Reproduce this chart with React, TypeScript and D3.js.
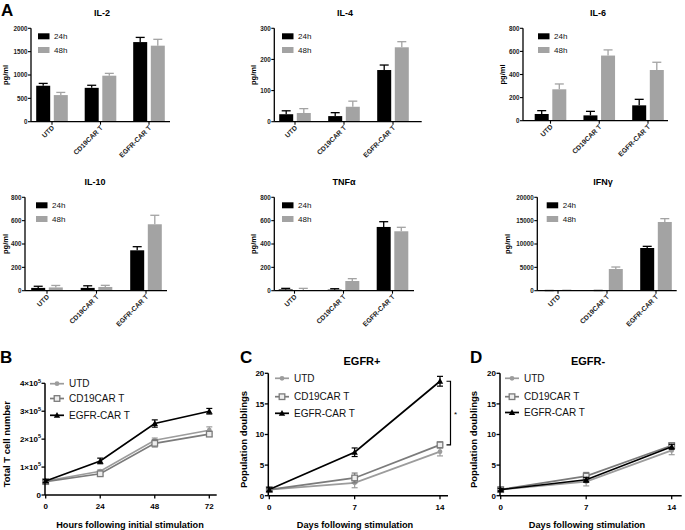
import React from "react";
import * as d3 from "d3";

// ---------- DATA ----------
const categories = ["UTD", "CD19CAR T", "EGFR-CAR T"];
const timeLabels = ["24h", "48h"];

const il2_24 = [770, 725, 1705];
const il2_24err = [50, 55, 100];
const il2_48 = [570, 985, 1628];
const il2_48err = [57, 50, 136];

const il4_24 = [24, 18, 166];
const il4_24err = [11, 11, 16];
const il4_48 = [28, 48, 239];
const il4_48err = [14, 18, 18];

const il6_24 = [58, 46, 133];
const il6_24err = [29, 35, 52];
const il6_48 = [272, 564, 439];
const il6_48err = [46, 49, 67];

const il10_24 = [24, 24, 346];
const il10_24err = [14, 18, 31];
const il10_48 = [28, 32, 569];
const il10_48err = [17, 14, 77];

const tnf_24 = [11, 9, 546];
const tnf_24err = [9, 8, 45];
const tnf_48 = [6, 83, 509];
const tnf_48err = [14, 20, 34];

const ifn_24 = [20, 30, 9143];
const ifn_24err = [20, 20, 357];
const ifn_48 = [60, 4643, 14714];
const ifn_48err = [40, 430, 714];

const ticks2000 = [0, 500, 1000, 1500, 2000];
const ticks300 = [0, 100, 200, 300];
const ticks800 = [0, 200, 400, 600, 800];
const ticks20000 = [0, 5000, 10000, 15000, 20000];

const seriesNames = ["UTD", "CD19CAR T", "EGFR-CAR T"];

const hours = [0, 24, 48, 72];
const hourTicks = [0, 24, 48, 72];
const bUTD = [0.5, 0.85, 1.96, 2.32];
const bUTDerr = [0.05, 0.05, 0.08, 0.12];
const bCD19 = [0.48, 0.76, 1.85, 2.18];
const bCD19err = [0.05, 0.06, 0.13, 0.08];
const bEGFR = [0.5, 1.22, 2.56, 3.0];
const bEGFRerr = [0.05, 0.1, 0.13, 0.1];
const bYTicks = [0, 1, 2, 3, 4];

const days = [0, 7, 14];
const dayTicks = [0, 7, 14];
const cUTD = [1.0, 2.1, 7.2];
const cUTDerr = [0.3, 0.8, 0.7];
const cCD19 = [1.0, 2.9, 8.3];
const cCD19err = [0.3, 0.8, 0.5];
const cEGFR = [1.0, 7.1, 18.7];
const cEGFRerr = [0.3, 0.7, 0.8];

const dUTD = [1.0, 2.3, 7.4];
const dUTDerr = [0.3, 0.7, 0.7];
const dCD19 = [1.0, 3.2, 8.2];
const dCD19err = [0.3, 0.6, 0.4];
const dEGFR = [1.0, 2.6, 8.0];
const dEGFRerr = [0.2, 0.4, 0.4];
const pdTicks = [0, 5, 10, 15, 20];

// ---------- STYLE ----------
const FONT = "'Liberation Sans', Arial, Helvetica, sans-serif";
const C24 = "#000000";
const C48 = "#a3a3a3";
const seriesColors = ["#9c9c9c", "#7b7b7b", "#000000"];

type BarProps = {
  title: string;
  x0: number;
  x1: number;
  yTop: number;
  yBot: number;
  max: number;
  ticks: number[];
  c0: number;
  c2: number;
  v24: number[];
  e24: number[];
  v48: number[];
  e48: number[];
  legendX: number;
  titleX: number;
  titleY: number;
  pgX: number;
};

function BarPanel(p: BarProps) {
  const y = d3.scaleLinear().domain([0, p.max]).range([p.yBot, p.yTop]);
  const x = d3.scalePoint<string>().domain(categories).range([p.c0, p.c2]);
  const bw = 14;
  const gap = 1.8;
  const legY = p.yTop + 5;
  const bars: React.ReactNode[] = [];
  categories.forEach((c, i) => {
    const cx = x(c)!;
    const groups = [
      { v: p.v24[i], e: p.e24[i], col: C24, bx: cx - gap - bw },
      { v: p.v48[i], e: p.e48[i], col: C48, bx: cx + gap },
    ];
    groups.forEach((g, j) => {
      const mid = g.bx + bw / 2;
      bars.push(
        <g key={`${i}-${j}`}>
          <line x1={mid} x2={mid} y1={y(g.v)} y2={y(g.v + g.e)} stroke={g.col} strokeWidth={1.3} />
          <line x1={mid - 4.5} x2={mid + 4.5} y1={y(g.v + g.e)} y2={y(g.v + g.e)} stroke={g.col} strokeWidth={1.3} />
          <rect x={g.bx} y={y(g.v)} width={bw} height={p.yBot - y(g.v)} fill={g.col} />
        </g>
      );
    });
  });
  return (
    <g fontFamily={FONT}>
      <text x={p.titleX} y={p.titleY} textAnchor="middle" fontSize={9} fontWeight="bold">
        {p.title}
      </text>
      {bars}
      {/* y axis */}
      <line x1={p.x0} x2={p.x0} y1={p.yTop} y2={p.yBot} stroke="#000" strokeWidth={1.3} />
      {p.ticks.map((t) => (
        <g key={t}>
          <line x1={p.x0 - 3} x2={p.x0} y1={y(t)} y2={y(t)} stroke="#000" strokeWidth={1.1} />
          <text x={p.x0 - 3.5} y={y(t)} dy="0.35em" textAnchor="end" fontSize={6.3} fontWeight="bold" fill="#222">
            {t}
          </text>
        </g>
      ))}
      {/* x axis */}
      <line x1={p.x0} x2={p.x1} y1={p.yBot} y2={p.yBot} stroke="#000" strokeWidth={1.3} />
      {categories.map((c) => (
        <g key={c}>
          <line x1={x(c)!} x2={x(c)!} y1={p.yBot} y2={p.yBot + 3} stroke="#000" strokeWidth={1.1} />
          <text
            transform={`translate(${x(c)! + 1},${p.yBot + 5}) rotate(-45)`}
            textAnchor="end"
            dy="0.35em"
            fontSize={6.8}
            fontWeight="bold"
            fill="#222"
          >
            {c}
          </text>
        </g>
      ))}
      <text
        transform={`translate(${p.pgX},${(p.yTop + p.yBot) / 2}) rotate(-90)`}
        textAnchor="middle"
        fontSize={7.5}
        fontWeight="bold"
      >
        pg/ml
      </text>
      {/* legend */}
      {timeLabels.map((t, i) => (
        <g key={t}>
          <rect x={p.legendX} y={legY + i * 13.7} width={11.5} height={6} fill={i === 0 ? C24 : C48} />
          <text x={p.legendX + 16} y={legY + i * 13.7 + 3} dy="0.35em" fontSize={8} fill="#111">
            {t}
          </text>
        </g>
      ))}
    </g>
  );
}

type Series = { name: string; v: number[]; e: number[]; color: string; marker: string };

function Marker({ type, x, y, color }: { type: string; x: number; y: number; color: string }) {
  if (type === "circle") return <circle cx={x} cy={y} r={2.4} fill={color} />;
  if (type === "square")
    return <rect x={x - 2.8} y={y - 2.8} width={5.6} height={5.6} fill="#eeeeee" stroke={color} strokeWidth={1.3} />;
  const s = 3.2;
  return <path d={`M${x},${y - s}L${x + s},${y + s * 0.8}L${x - s},${y + s * 0.8}Z`} fill={color} />;
}

type LineProps = {
  x0: number;
  xEnd: number;
  xr: [number, number];
  xDomain: [number, number];
  xTicks: number[];
  xs: number[];
  yTop: number;
  yBot: number;
  yMax: number;
  yTicks: number[];
  sci: boolean;
  series: Series[];
  legX: number;
  legYs: number[];
  title?: string;
  titleX?: number;
  xLabel: string;
  xLabelX: number;
  yLabel: string;
  yLabelX: number;
  letter: string;
  letterX: number;
};

function LinePanel(p: LineProps) {
  const x = d3.scaleLinear().domain(p.xDomain).range(p.xr);
  const y = d3.scaleLinear().domain([0, p.yMax]).range([p.yBot, p.yTop]);
  const line = d3
    .line<number>()
    .x((_, i) => x(p.xs[i]))
    .y((d) => y(d));
  return (
    <g fontFamily={FONT}>
      <text x={p.letterX} y={363} fontSize={17} fontWeight="bold">
        {p.letter}
      </text>
      {p.title && (
        <text x={p.titleX} y={365} textAnchor="middle" fontSize={11} fontWeight="bold">
          {p.title}
        </text>
      )}
      {p.series.map((s) => (
        <g key={s.name}>
          <path d={line(s.v) || ""} fill="none" stroke={s.color} strokeWidth={1.7} />
          {s.v.map((v, i) => {
            const cx = x(p.xs[i]);
            return (
              <g key={i}>
                <line x1={cx} x2={cx} y1={y(v - s.e[i])} y2={y(v + s.e[i])} stroke={s.color} strokeWidth={1.2} />
                <line x1={cx - 3} x2={cx + 3} y1={y(v - s.e[i])} y2={y(v - s.e[i])} stroke={s.color} strokeWidth={1.2} />
                <line x1={cx - 3} x2={cx + 3} y1={y(v + s.e[i])} y2={y(v + s.e[i])} stroke={s.color} strokeWidth={1.2} />
                <Marker type={s.marker} x={cx} y={y(v)} color={s.color} />
              </g>
            );
          })}
        </g>
      ))}
      {/* axes */}
      <line x1={p.x0} x2={p.x0} y1={p.yTop} y2={p.yBot} stroke="#000" strokeWidth={1.5} />
      <line x1={p.x0} x2={p.xEnd} y1={p.yBot} y2={p.yBot} stroke="#000" strokeWidth={1.5} />
      {p.yTicks.map((t) => (
        <g key={t}>
          <line x1={p.x0 - 3.5} x2={p.x0} y1={y(t)} y2={y(t)} stroke="#000" strokeWidth={1.3} />
          <text x={p.x0 - 4} y={y(t)} dy="0.35em" textAnchor="end" fontSize={8} fontWeight="bold">
            {p.sci && t !== 0 ? (
              <>
                <tspan>{`${t}×10`}</tspan>
                <tspan dy={-3.5} fontSize={5.5}>
                  5
                </tspan>
              </>
            ) : (
              t
            )}
          </text>
        </g>
      ))}
      {p.xTicks.map((t) => (
        <g key={t}>
          <line x1={x(t)} x2={x(t)} y1={p.yBot} y2={p.yBot + 3.5} stroke="#000" strokeWidth={1.3} />
          <text x={x(t)} y={p.yBot + 14} textAnchor="middle" fontSize={8} fontWeight="bold">
            {t}
          </text>
        </g>
      ))}
      <text x={p.xLabelX} y={528} textAnchor="middle" fontSize={9.2} fontWeight="bold">
        {p.xLabel}
      </text>
      <text
        transform={`translate(${p.yLabelX + 3.5},${(p.yTop + p.yBot) / 2 + 5}) rotate(-90)`}
        textAnchor="middle"
        fontSize={9.5}
        fontWeight="bold"
      >
        {p.yLabel}
      </text>
      {/* legend */}
      {p.series.map((s, i) => (
        <g key={s.name}>
          <line x1={p.legX} x2={p.legX + 14} y1={p.legYs[i]} y2={p.legYs[i]} stroke={s.color} strokeWidth={1.7} />
          <Marker type={s.marker} x={p.legX + 7} y={p.legYs[i]} color={s.color} />
          <text x={p.legX + 19} y={p.legYs[i]} dy="0.35em" fontSize={10} fill="#111">
            {s.name}
          </text>
        </g>
      ))}
    </g>
  );
}

export default function App() {
  const markers = ["circle", "square", "triangle"];
  const mk = (vals: number[][], errs: number[][]): Series[] =>
    seriesNames.map((n, i) => ({ name: n, v: vals[i], e: errs[i], color: seriesColors[i], marker: markers[i] }));
  const bSeries = mk([bUTD, bCD19, bEGFR], [bUTDerr, bCD19err, bEGFRerr]);
  const cSeries = mk([cUTD, cCD19, cEGFR], [cUTDerr, cCD19err, cEGFRerr]);
  const dSeries = mk([dUTD, dCD19, dEGFR], [dUTDerr, dCD19err, dEGFRerr]);

  const cy = d3.scaleLinear().domain([0, 20]).range([495.7, 373.3]);
  const cx = d3.scaleLinear().domain([0, 14]).range([269.3, 440]);

  return (
    <svg width={685} height={530} style={{ position: "absolute", left: 0, top: 0, background: "#fff" }}>
      <rect width={685} height={530} fill="#fff" />
      <text x={1} y={16} fontFamily={FONT} fontSize={17} fontWeight="bold">
        A
      </text>
      <BarPanel title="IL-2" titleX={102} titleY={16} x0={31} x1={170} yTop={28.3} yBot={121.7} max={2000}
        ticks={ticks2000} c0={52} c2={149} v24={il2_24} e24={il2_24err} v48={il2_48} e48={il2_48err} legendX={38} pgX={8} />
      <BarPanel title="IL-4" titleX={345} titleY={16} x0={274.3} x1={421.7} yTop={28.3} yBot={121.7} max={300}
        ticks={ticks300} c0={295} c2={393} v24={il4_24} e24={il4_24err} v48={il4_48} e48={il4_48err} legendX={282} pgX={256} />
      <BarPanel title="IL-6" titleX={598} titleY={16} x0={523} x1={668} yTop={28.3} yBot={120.7} max={800}
        ticks={ticks800} c0={550.5} c2={648} v24={il6_24} e24={il6_24err} v48={il6_48} e48={il6_48err} legendX={538} pgX={505} />
      <BarPanel title="IL-10" titleX={95} titleY={185} x0={25} x1={167} yTop={197.3} yBot={290.7} max={800}
        ticks={ticks800} c0={47} c2={146} v24={il10_24} e24={il10_24err} v48={il10_48} e48={il10_48err} legendX={36} pgX={8} />
      <BarPanel title="TNFα" titleX={344} titleY={185} x0={274.3} x1={414} yTop={197.3} yBot={290.7} max={800}
        ticks={ticks800} c0={294.5} c2={392.5} v24={tnf_24} e24={tnf_24err} v48={tnf_48} e48={tnf_48err} legendX={282} pgX={256} />
      <BarPanel title="IFNγ" titleX={603} titleY={185} x0={537.3} x1={676.7} yTop={197.3} yBot={290.7} max={20000}
        ticks={ticks20000} c0={558} c2={656} v24={ifn_24} e24={ifn_24err} v48={ifn_48} e48={ifn_48err} legendX={546.7} pgX={510} />

      <LinePanel x0={45} xEnd={216.7} xr={[45.7, 209.3]} xDomain={[0, 72]} xTicks={hourTicks} xs={hours}
        yTop={383.3} yBot={495} yMax={4} yTicks={bYTicks} sci={true} series={bSeries}
        legX={50} legYs={[383.7, 398.5, 415.3]} xLabel="Hours following initial stimulation" xLabelX={130}
        yLabel="Total T cell number" yLabelX={6} letter="B" letterX={0} />
      <LinePanel x0={268.3} xEnd={448} xr={[269.3, 440]} xDomain={[0, 14]} xTicks={dayTicks} xs={days}
        yTop={373.3} yBot={495.7} yMax={20} yTicks={pdTicks} sci={false} series={cSeries}
        legX={275} legYs={[378.3, 396.7, 413.3]} title="EGFR+" titleX={362} xLabel="Days following stimulation"
        xLabelX={355} yLabel="Population doublings" yLabelX={243.3} letter="C" letterX={240} />
      <LinePanel x0={500} xEnd={681.7} xr={[500.7, 671.7]} xDomain={[0, 14]} xTicks={dayTicks} xs={days}
        yTop={373.3} yBot={495.7} yMax={20} yTicks={pdTicks} sci={false} series={dSeries}
        legX={505} legYs={[378.3, 396.7, 412.5]} title="EGFR-" titleX={588} xLabel="Days following stimulation"
        xLabelX={587} yLabel="Population doublings" yLabelX={473.3} letter="D" letterX={470} />

      {/* significance bracket in C */}
      <g stroke="#000" strokeWidth={1.2} fill="none">
        <path d={`M${cx(14) + 6.5},${cy(cEGFR[2])}H${cx(14) + 10.5}V${cy(cCD19[2])}H${cx(14) + 6.5}`} />
      </g>
      <text x={cx(14) + 15.5} y={cy((cEGFR[2] + cCD19[2]) / 2) + 4} fontFamily={FONT} fontSize={8} textAnchor="middle">
        *
      </text>
    </svg>
  );
}
